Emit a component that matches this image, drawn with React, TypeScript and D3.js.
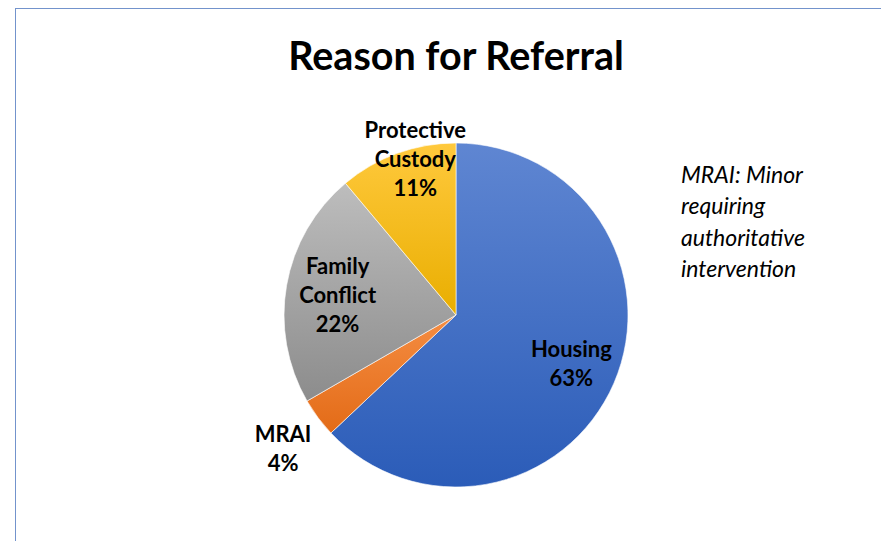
import React from "react";
import * as d3 from "d3";

const categories = ["Housing", "MRAI", "Family Conflict", "Protective Custody"];
const values = [17, 1, 6, 3];
const labelLines = [["Housing"], ["MRAI"], ["Family", "Conflict"], ["Protective", "Custody"]];
const title = "Reason for Referral";
const noteLines = ["MRAI: Minor", "requiring", "authoritative", "intervention"];

const gradients = [
  ["#5F86D2", "#2B5CB8"],
  ["#F58D43", "#E36B17"],
  ["#BDBDBD", "#8C8C8C"],
  ["#FFC93D", "#E9AE00"],
];
const labelRadiusFactor = [0.74, 1.29, 0.69, 0.93];
const labelNudge = [
  [-1.5, -1],
  [5, 2],
  [-1.5, 2],
  [14, -5],
];

const W = 881;
const H = 541;
const cx = 456;
const cy = 315;
const R = 172;
const font = "Lato, 'Open Sans', sans-serif";

export default function App() {
  const total = d3.sum(values);
  const pie = d3.pie<number>().sort(null).value((d) => d);
  const arcs = pie(values);
  const arc = d3.arc<d3.PieArcDatum<number>>().innerRadius(0).outerRadius(R);
  const fmt = d3.format(".0%");
  const lineH = 29;

  return (
    <svg
      width={W}
      height={H}
      style={{ position: "absolute", left: 0, top: 0, background: "#fff" }}
    >
      <defs>
        {gradients.map((g, i) => (
          <linearGradient key={i} id={`g${i}`} x1="0" y1="0" x2="0" y2="1">
            <stop offset="0" stopColor={g[0]} />
            <stop offset="1" stopColor={g[1]} />
          </linearGradient>
        ))}
      </defs>
      <rect x={15.5} y={8.5} width={W + 20} height={H + 20} fill="none" stroke="#7393CC" strokeWidth={1} />
      <text
        x={cx}
        y={69.5}
        textAnchor="middle"
        fontFamily={font}
        fontWeight={700}
        fontSize={39.5}
        fill="#000"
      >
        {title}
      </text>
      <g transform={`translate(${cx},${cy})`}>
        {arcs.map((a, i) => (
          <path key={categories[i]} d={arc(a) || ""} fill={`url(#g${i})`} stroke="#fff" strokeWidth={0.6} />
        ))}
        {arcs.map((a, i) => {
          const lr = R * labelRadiusFactor[i];
          const [ax, ay] = d3.arc<d3.PieArcDatum<number>>().innerRadius(lr).outerRadius(lr).centroid(a);
          const lx = ax + labelNudge[i][0];
          const ly = ay + labelNudge[i][1];
          const lines = [...labelLines[i], fmt(values[i] / total)];
          const y0 = ly - ((lines.length - 1) * lineH) / 2 + 7;
          return (
            <text
              key={"l" + i}
              textAnchor="middle"
              fontFamily={font}
              fontWeight={700}
              fontSize={22}
              fill="#000"
            >
              {lines.map((t, j) => (
                <tspan key={j} x={lx} y={y0 + j * lineH}>
                  {t}
                </tspan>
              ))}
            </text>
          );
        })}
      </g>
      <text fontFamily={font} fontStyle="italic" fontSize={23} fill="#000">
        {noteLines.map((t, j) => (
          <tspan key={j} x={681} y={183.3 + j * 31.1}>
            {t}
          </tspan>
        ))}
      </text>
    </svg>
  );
}
